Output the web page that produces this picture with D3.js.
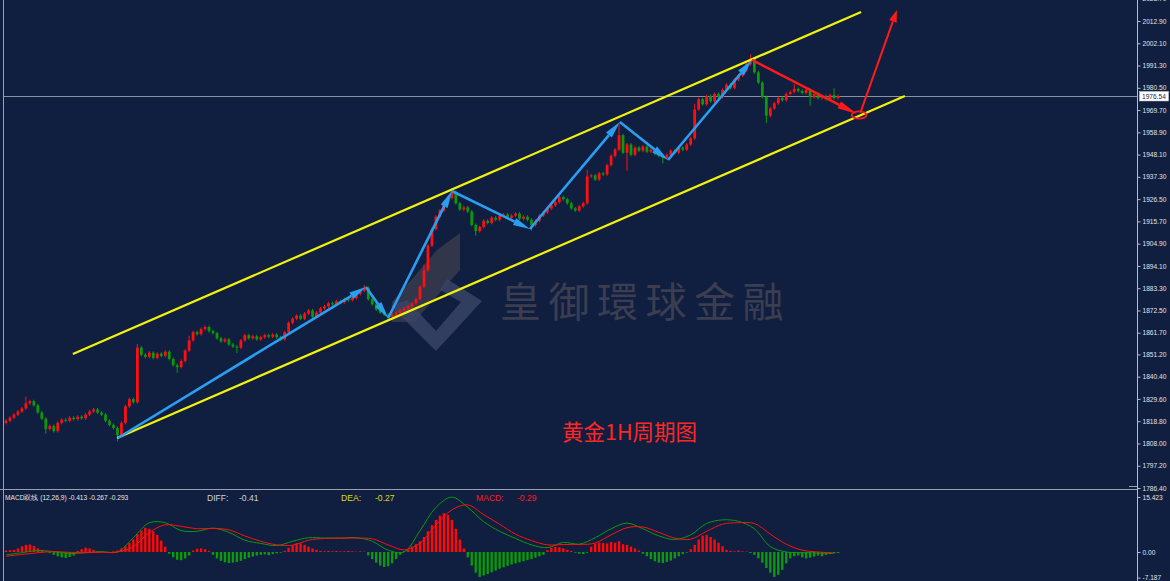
<!DOCTYPE html>
<html>
<head>
<meta charset="utf-8">
<script src="https://cdn.jsdelivr.net/npm/d3@7/dist/d3.min.js"></script>
<style>
  html, body { margin: 0; padding: 0; background: #101e3f; overflow: hidden; }
  svg { display: block; }
</style>
</head>
<body>
<div id="chart"></div>
<script>
// 收盘价 (1H K线, 按图估读)
const closes = [
  1819.0, 1820.5, 1822.0, 1823.5,
  1825.0, 1827.5, 1828.5, 1826.5,
  1823.0, 1820.0, 1815.0, 1816.5,
  1814.0, 1818.0, 1819.5,
  1819.0, 1820.5, 1819.8, 1821.0, 1820.2, 1822.0, 1823.5, 1824.5,
  1823.0, 1822.0, 1819.0, 1817.0, 1815.5,
  1812.0,
  1818.0, 1826.0, 1829.5,
  1828.0,
  1854.5,
  1851.0, 1850.0, 1852.0, 1849.5, 1851.5, 1850.5, 1852.5, 1849.0, 1846.0,
  1845.0,
  1848.0, 1853.0, 1858.0, 1862.0,
  1861.0, 1863.5, 1864.5, 1862.5,
  1861.5, 1859.0, 1857.5, 1858.5, 1856.0, 1855.0, 1854.5,
  1858.0, 1860.5, 1859.0, 1860.0, 1858.5, 1859.5, 1860.5, 1859.8, 1860.8, 1859.5, 1858.5,
  1862.0, 1866.5, 1868.5,
  1870.0, 1868.5, 1871.0, 1872.5, 1869.5, 1871.5, 1873.5,
  1874.5, 1876.0, 1875.5, 1877.0, 1876.5, 1878.0, 1877.5, 1878.5,
  1880.5, 1882.0, 1883.5,
  1878.0, 1875.5, 1873.0, 1871.5, 1870.5, 1869.5,
  1870.5, 1871.5, 1872.5, 1873.5, 1874.5, 1876.0, 1878.0,
  1884.0, 1892.0, 1904.0,
  1912.0, 1918.0, 1921.0, 1925.0, 1927.0, 1930.0,
  1924.5, 1921.5, 1922.5, 1920.5,
  1914.0, 1911.0, 1913.0,
  1916.0, 1915.0, 1917.5, 1916.5, 1918.5,
  1919.0, 1917.5, 1918.5, 1919.5, 1917.0, 1918.0, 1916.5,
  1914.0, 1916.0,
  1918.5, 1920.0, 1922.0, 1923.5,
  1925.0, 1927.5, 1926.5, 1924.5,
  1922.0, 1921.0, 1923.0, 1924.5,
  1937.5,
  1938.0, 1936.0, 1939.0, 1938.5,
  1943.0, 1947.5, 1950.5,
  1957.5,
  1949.0, 1953.0, 1948.0,
  1951.5, 1950.0, 1952.0, 1949.5, 1950.5, 1948.5, 1947.5,
  1946.5, 1948.0,
  1950.0, 1949.0, 1951.5, 1950.5, 1953.0,
  1956.0,
  1970.0,
  1975.0, 1972.5, 1976.5, 1974.0, 1977.5, 1976.0,
  1979.5, 1982.0, 1980.5, 1984.5, 1986.5,
  1989.0, 1992.0, 1994.5,
  1988.0, 1983.0, 1976.0,
  1967.0,
  1970.5, 1973.0, 1975.5, 1974.5, 1977.5,
  1978.5, 1980.0, 1979.0, 1978.0, 1979.5,
  1976.0, 1977.5, 1975.5, 1976.5,
  1975.0, 1977.0, 1975.5, 1976.54
];
const firstOpen = 1818.0;

// 明显的上下影线 [序号, 价格]
const wickHighs = [[5, 1830.0], [33, 1855.5], [46, 1859.5], [90, 1884.2], [105, 1894.0], [112, 1931.0], [146, 1940.0], [154, 1962.3], [173, 1972.0], [187, 1996.0], [198, 1981.5], [208, 1979.5]];
const wickLows = [[10, 1813.5], [28, 1809.7], [43, 1843.0], [58, 1852.5], [96, 1868.0], [118, 1909.5], [132, 1912.0], [156, 1941.0], [165, 1944.5], [191, 1964.0], [202, 1972.5]];

// MACD 柱
const macdHist = [
  0.4, 0.5, 0.6,
  1.0, 1.6, 2.0, 2.1, 1.7, 1.0,
  0.6, 0.2, -0.3,
  -0.8, -1.2, -1.5, -1.7, -1.4, -1.0,
  0.3, 0.8, 1.2, 1.0, 0.6,
  0.2, 0.1, -0.2, -0.3, 0.2, 0.4,
  1.0, 1.6, 2.5, 3.5, 5.0, 6.0, 6.8, 6.5, 5.8, 4.8, 3.2, 1.5,
  -0.5, -1.5, -2.2, -2.3, -1.8, -1.0,
  0.4, 0.9, 1.0, 0.8, 0.3,
  -0.8, -1.8, -2.5, -2.9, -3.1, -3.0, -2.8, -2.5, -2.0, -1.6, -1.3, -1.0,
  -0.8, -0.7, -0.9, -0.6, -0.4, -0.2, 0.3,
  1.2, 2.0, 2.5, 2.4, 2.0, 1.5, 1.0, 0.6,
  0.3, 0.2, 0.3, 0.2, 0.3, 0.2, 0.2, 0.3, 0.2, 0.1, 0.2, 0.1,
  -1.0, -2.0, -3.0, -3.8, -4.2, -4.0, -3.2, -2.0, -0.8,
  0.3, 0.8, 1.5, 2.2, 3.0, 4.2, 5.8, 7.5, 9.0, 10.2, 10.9, 10.4, 9.0, 6.5, 3.5, 1.0,
  -1.5, -3.8, -5.8, -7.0, -6.6, -6.2, -5.7, -5.2, -4.7, -4.3, -3.9, -3.5, -3.2, -2.9, -2.6, -2.3, -2.0, -1.6, -1.2, -0.8,
  0.5, 1.2, 1.4, 1.3, 1.0, 0.6, 0.3, -0.2,
  -0.5, -0.6, -0.2,
  1.5, 2.3, 2.6, 2.5, 2.4, 2.8, 2.6, 3.0, 2.2, 2.0, 1.5, 1.0, 0.4,
  -0.5, -1.2, -2.0, -2.6, -3.0, -3.1, -2.8, -2.4, -1.8, -1.2, -0.6, -0.2,
  0.8, 2.0, 3.5, 4.6, 4.8, 4.2, 3.5, 2.6, 1.6, 0.6,
  0.3, 0.2, 0.4, 0.2, 0.1,
  -0.3, -0.8, -1.8, -3.0, -4.5, -5.8, -7.0, -6.4, -5.0, -3.2, -1.8,
  -1.2, -1.0, -1.5, -1.8, -1.6, -1.3, -1.0, -1.2, -0.8, -0.6, -0.4, -0.293
];

// DIFF / DEA, 每4根K线取一个点
const lineStep = 4;
const diffLine = [-0.8, -0.2, 0.4, 0.1, -0.4, -0.2, 0.1, 0.0, 4.0, 8.2, 8.2, 6.0, 5.8, 6.7, 5.5, 3.3, 2.4, 1.8, 3.0, 4.0, 3.9, 3.9, 4.0, 3.0, 0.5, 0.0, 6.0, 12.5, 15.4, 12.5, 8.5, 5.8, 3.8, 2.0, 1.2, 2.7, 2.2, 4.0, 6.5, 8.1, 6.5, 4.5, 3.5, 4.8, 8.0, 9.0, 8.6, 6.5, 1.5, 0.0, -0.2, -0.3, -0.41];
const deaLine = [-1.2, -0.7, -0.2, 0.1, -0.1, -0.2, -0.1, 0.0, 1.5, 5.5, 7.6, 7.2, 6.5, 6.6, 6.2, 4.5, 3.0, 2.0, 1.9, 3.3, 3.8, 3.9, 3.9, 3.7, 2.0, 0.6, 2.5, 7.5, 11.8, 13.2, 10.5, 7.8, 5.0, 3.2, 2.0, 2.1, 2.1, 2.5, 4.8, 6.8, 7.0, 5.5, 3.9, 3.6, 5.8, 7.8, 8.2, 8.0, 5.0, 2.2, 0.5, 0.0, -0.27];

// 坐标轴刻度
const priceTicks = [2023.70, 2012.90, 2002.10, 1991.30, 1980.50, 1969.70, 1958.90, 1948.10, 1937.30, 1926.50, 1915.70, 1904.90, 1894.10, 1883.30, 1872.50, 1861.70, 1851.20, 1840.40, 1829.60, 1818.80, 1808.00, 1797.20, 1786.40];
const macdTicks = [15.423, 0, -7.187];
const macdTickLabels = ["15.423", "0.00", "-7.187"];
const lastPrice = 1976.54;

// 画线 [序号, 价格]
const channelUpper = [[16.8, 1851.4], [214.8, 2017.3]];
const channelLower = [[27.9, 1810.65], [225.8, 1976.5]];
const waveArrows = [[28.1, 1810.65], [90.4, 1883.9], [96.0, 1868.85], [112.0, 1930.45], [131.6, 1912.0], [154.2, 1963.9], [166.3, 1945.5], [187.4, 1994.0]];
const downArrow = [[187.4, 1994.0], [213.8, 1967.8]];
const upArrow = [[214.6, 1968.3], [223.8, 2018.2]];
const targetMark = [214.3, 1967.3];

const W = 1170, H = 581;
const axisX = 1137;
const mainBottom = 489;

const bg = "#101e3f";
const upColor = "#ff1010";
const downColor = "#0a9a0a";
const gridColor = "#b8bcc8";

const svg = d3.select("#chart").append("svg")
  .attr("width", W).attr("height", H)
  .style("background", bg);

const defs = svg.append("defs");
defs.append("clipPath").attr("id", "clipMain")
  .append("rect").attr("x", 4).attr("y", 0).attr("width", axisX - 4).attr("height", mainBottom);
defs.append("clipPath").attr("id", "clipMacd")
  .append("rect").attr("x", 4).attr("y", mainBottom + 1).attr("width", axisX - 4).attr("height", H - mainBottom);

const x = d3.scaleLinear().domain([0, closes.length - 1]).range([6, 838]);
const y = d3.scaleLinear().domain([1786.4, 2012.9]).range([488, 21]);
const ym = d3.scaleLinear().domain([-7.187, 15.423]).range([577.6, 497]);

// 水印
const wm = svg.append("g").attr("clip-path", "url(#clipMain)");
wm.append("path")
  .attr("d", "M437,250 L460,233 L460,270 L414,322 L392,322 L392,302 Z")
  .attr("fill", "#3c3f4f").attr("opacity", 0.75);
wm.append("path")
  .attr("d", "M447,279 L482,301 L436,351 L391,306 L407,300 L436,331 L461,302 L440,290 Z")
  .attr("fill", "#3a4668").attr("opacity", 0.8);
wm.append("text")
  .attr("x", 500).attr("y", 317)
  .attr("font-family", "Noto Sans CJK TC")
  .attr("font-size", 41)
  .attr("letter-spacing", 7.5)
  .attr("fill", "#3b3e50")
  .text("皇御環球金融");

// 主图
const main = svg.append("g").attr("clip-path", "url(#clipMain)");

// 现价线
main.append("line")
  .attr("x1", 4).attr("x2", axisX)
  .attr("y1", Math.round(y(lastPrice)) + 0.5).attr("y2", Math.round(y(lastPrice)) + 0.5)
  .attr("stroke", "#8a8fa2").attr("stroke-width", 1);

// K线
const hiMap = new Map(wickHighs);
const loMap = new Map(wickLows);
const candles = closes.map((c, i) => {
  const o = i === 0 ? firstOpen : closes[i - 1];
  return {
    i, o, c,
    h: Math.max(o, c, hiMap.get(i) || -Infinity),
    l: Math.min(o, c, loMap.get(i) || Infinity)
  };
});

const cg = main.append("g").selectAll("g").data(candles).join("g");
cg.append("line")
  .attr("x1", d => x(d.i)).attr("x2", d => x(d.i))
  .attr("y1", d => y(d.h) - 1.5).attr("y2", d => y(d.l) + 1.5)
  .attr("stroke", d => d.c >= d.o ? upColor : downColor)
  .attr("stroke-width", 1);
cg.append("rect")
  .attr("x", d => x(d.i) - 1.4)
  .attr("width", 2.8)
  .attr("y", d => y(Math.max(d.o, d.c)))
  .attr("height", d => Math.max(1, Math.abs(y(d.o) - y(d.c))))
  .attr("fill", d => d.c >= d.o ? upColor : downColor);

// 通道线
const px = p => [x(p[0]), y(p[1])];
[channelUpper, channelLower].forEach(seg => {
  const a = px(seg[0]), b = px(seg[1]);
  main.append("line")
    .attr("x1", a[0]).attr("y1", a[1]).attr("x2", b[0]).attr("y2", b[1])
    .attr("stroke", "#f2f20a").attr("stroke-width", 2.2);
});

function arrow(g, a, b, color, width, headLen, headHalf) {
  const dx = b[0] - a[0], dy = b[1] - a[1];
  const len = Math.hypot(dx, dy);
  const ux = dx / len, uy = dy / len;
  const bx = b[0] - ux * headLen, by = b[1] - uy * headLen;
  g.append("line")
    .attr("x1", a[0]).attr("y1", a[1]).attr("x2", bx).attr("y2", by)
    .attr("stroke", color).attr("stroke-width", width);
  g.append("path")
    .attr("d", `M${b[0]},${b[1]} L${bx - uy * headHalf},${by + ux * headHalf} L${bx + uy * headHalf},${by - ux * headHalf} Z`)
    .attr("fill", color);
}

// 波浪箭头
for (let k = 0; k < waveArrows.length - 1; k++) {
  arrow(main, px(waveArrows[k]), px(waveArrows[k + 1]), "#2a9ff2", 2.6, 17, 3.8);
}
arrow(main, px(downArrow[0]), px(downArrow[1]), "#ff1a1a", 2.6, 20, 3.8);
main.append("ellipse")
  .attr("cx", x(targetMark[0])).attr("cy", y(targetMark[1]))
  .attr("rx", 7.5).attr("ry", 3.6)
  .attr("fill", "none").attr("stroke", "#ff1a1a").attr("stroke-width", 1.8);
arrow(main, px(upArrow[0]), px(upArrow[1]), "#ff1a1a", 2, 12, 4);

main.append("text")
  .attr("x", 562).attr("y", 440)
  .attr("font-family", "Noto Sans CJK SC")
  .attr("font-size", 21.5)
  .attr("fill", "#ff2626")
  .text("黄金1H周期图");

// MACD 副图
const sub = svg.append("g").attr("clip-path", "url(#clipMacd)");
sub.append("g").selectAll("line").data(macdHist).join("line")
  .attr("x1", (d, i) => x(i)).attr("x2", (d, i) => x(i))
  .attr("y1", ym(0)).attr("y2", d => ym(d))
  .attr("stroke", d => d >= 0 ? "#ff0a0a" : "#0a9a0a")
  .attr("stroke-width", 2.4);

const macdLine = d3.line()
  .x((d, k) => x(Math.min(k * lineStep, closes.length - 1)))
  .y(d => ym(d))
  .curve(d3.curveCatmullRom);
sub.append("path").datum(diffLine).attr("d", macdLine)
  .attr("fill", "none").attr("stroke", "#0a9a0a").attr("stroke-width", 1);
sub.append("path").datum(deaLine).attr("d", macdLine)
  .attr("fill", "none").attr("stroke", "#ff1010").attr("stroke-width", 1);

// 副图标题
const hdr = svg.append("g").attr("font-family", "Liberation Sans, Arial, sans-serif");
hdr.append("text").attr("x", 5).attr("y", 500).attr("font-size", 6.6).attr("fill", "#e8e8e8")
  .text("MACD双线 (12,26,9) -0.413 -0.267 -0.293");
const hdrItems = [
  { x: 207, t: "DIFF:", c: "#cfd2da" }, { x: 239, t: "-0.41", c: "#cfd2da" },
  { x: 341, t: "DEA:", c: "#dcdc10" }, { x: 375, t: "-0.27", c: "#dcdc10" },
  { x: 476, t: "MACD:", c: "#ff1a1a" }, { x: 517, t: "-0.29", c: "#ff1a1a" }
];
hdr.selectAll(".hi").data(hdrItems).join("text")
  .attr("x", d => d.x).attr("y", 500.5)
  .attr("font-size", 8.6).attr("fill", d => d.c)
  .text(d => d.t);

// 边框与分隔线
svg.append("line").attr("x1", 3.5).attr("x2", 3.5).attr("y1", 0).attr("y2", H)
  .attr("stroke", "#9aa0b0").attr("stroke-width", 1);
svg.append("line").attr("x1", 0).attr("x2", axisX).attr("y1", mainBottom + 0.5).attr("y2", mainBottom + 0.5)
  .attr("stroke", "#9aa0b0").attr("stroke-width", 1);
svg.append("line").attr("x1", axisX - 8).attr("x2", axisX).attr("y1", mainBottom - 2.5).attr("y2", mainBottom - 2.5)
  .attr("stroke", "#9aa0b0").attr("stroke-width", 1);

// 价格轴
const priceAxis = svg.append("g").attr("transform", `translate(${axisX + 0.5},0)`)
  .call(d3.axisRight(y).tickValues(priceTicks).tickFormat(d3.format(".2f")).tickSize(3).tickPadding(2));
const macdAxis = svg.append("g").attr("transform", `translate(${axisX + 0.5},0)`)
  .call(d3.axisRight(ym).tickValues(macdTicks).tickFormat((d, i) => macdTickLabels[i]).tickSize(3).tickPadding(2));
[priceAxis, macdAxis].forEach(ax => {
  ax.select(".domain").remove();
  ax.selectAll(".tick line").attr("stroke", gridColor);
  ax.selectAll(".tick text")
    .attr("fill", "#e0e2ea")
    .attr("font-family", "Liberation Sans, Arial, sans-serif")
    .attr("font-size", 6.6);
});
svg.append("line").attr("x1", axisX + 0.5).attr("x2", axisX + 0.5).attr("y1", 0).attr("y2", H)
  .attr("stroke", gridColor).attr("stroke-width", 1);

// 现价标签
const lp = y(lastPrice);
svg.append("rect").attr("x", 1139.5).attr("y", lp - 4.5).attr("width", 29).attr("height", 9.5)
  .attr("fill", "#ffffff").attr("stroke", "#d0d0d0").attr("stroke-width", 0.5);
svg.append("text").attr("x", 1142).attr("y", lp + 2.6)
  .attr("font-family", "Liberation Sans, Arial, sans-serif")
  .attr("font-size", 6.6).attr("fill", "#101e3f")
  .text(lastPrice.toFixed(2));
</script>
</body>
</html>
